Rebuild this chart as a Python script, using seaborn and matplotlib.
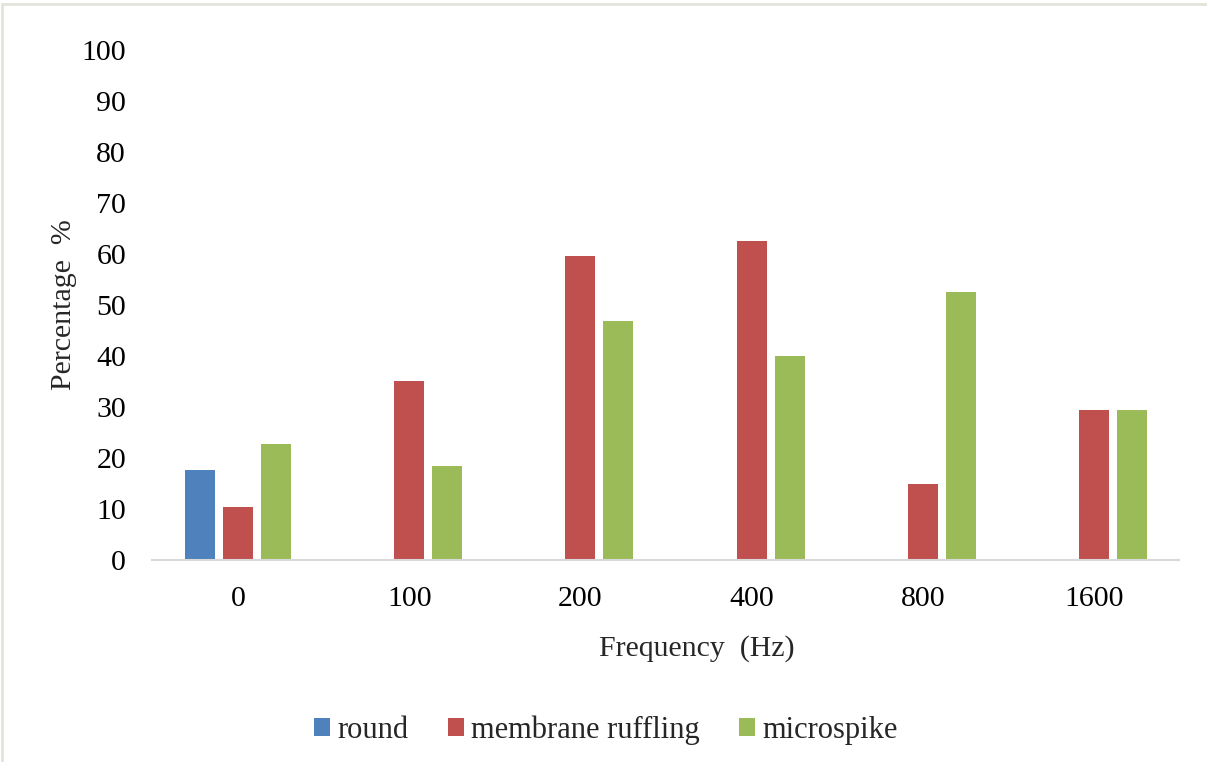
import numpy as np
import pandas as pd
import matplotlib
matplotlib.use("Agg")
import matplotlib.pyplot as plt
from matplotlib.patches import Patch
import seaborn as sns

# Frequencies of stimulation and share of cells in each morphology class
frequencies = ["0", "100", "200", "400", "800", "1600"]
series_names = ["round", "membrane ruffling", "microspike"]
round_pct = [17.6, 0, 0, 0, 0, 0]
ruffling_pct = [10.4, 35.0, 59.6, 62.5, 14.9, 29.5]
microspike_pct = [22.7, 18.5, 46.9, 40.0, 52.5, 29.5]
yticks = list(range(0, 101, 10))

colors = ["#4F81BD", "#C0504D", "#9BBB59"]

df = pd.DataFrame({
    "Frequency": frequencies * 3,
    "Shape": np.repeat(series_names, len(frequencies)),
    "Percentage": round_pct + ruffling_pct + microspike_pct,
})

sns.set_style("white")
plt.rcParams["font.family"] = ["Liberation Serif", "DejaVu Serif"]

FS = 21.5

fig = plt.figure(figsize=(12.07, 7.62), dpi=100)
ax = fig.add_axes([0.1263, 0.2651, 0.8509, 0.6693])

sns.barplot(
    data=df, x="Frequency", y="Percentage", hue="Shape",
    order=frequencies, hue_order=series_names, palette=colors,
    width=0.667, gap=0.21, linewidth=0, saturation=1,
    legend=False, ax=ax,
)

ax.set_ylim(0, 100)
ax.set_xlim(-0.5, len(frequencies) - 0.5)
ax.set_yticks(yticks)
ax.set_yticklabels([str(t) for t in yticks])
ax.tick_params(axis="both", length=0, labelsize=FS, colors="black")
ax.tick_params(axis="y", pad=19)
ax.tick_params(axis="x", pad=19)

for side in ["top", "right", "left"]:
    ax.spines[side].set_visible(False)
ax.spines["bottom"].set_color("#d9d9d9")
ax.spines["bottom"].set_linewidth(1.5)

ax.set_ylabel("Percentage  %", fontsize=FS)
ax.set_xlabel("Frequency  (Hz)", fontsize=FS)
ax.xaxis.set_label_coords(0.530, -0.148)
ax.yaxis.set_label_coords(-0.073, 0.5)

handles = [Patch(facecolor=c, edgecolor="none") for c in colors]
fig.legend(
    handles, series_names, loc="center", bbox_to_anchor=(0.502, 0.042),
    ncol=3, frameon=False, fontsize=22, handlelength=0.52, handleheight=0.52,
    handletextpad=0.23, columnspacing=1.3,
)

# light outer frame along the top and left edges
fig.add_artist(plt.Line2D([0.002, 1.0], [0.995, 0.995], transform=fig.transFigure,
                          color="#e3e3da", linewidth=2))
fig.add_artist(plt.Line2D([0.002, 0.002], [0.0, 0.995], transform=fig.transFigure,
                          color="#e3e3da", linewidth=2))

fig.savefig("out.png", dpi=100)
